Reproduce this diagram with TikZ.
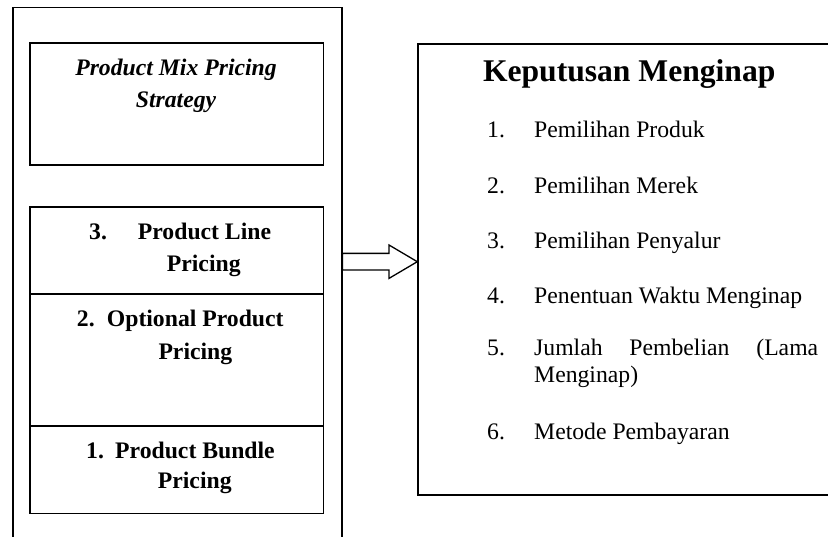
\documentclass[tikz,border=0pt]{standalone}
\usepackage{fontspec}
\setmainfont{Liberation Serif}
\usetikzlibrary{calc}
\tikzset{
  panel/.style={draw, line width=1.5pt, rectangle, inner sep=0pt, anchor=north west},
  cell/.style={draw, line width=1.6pt, rectangle, inner sep=0pt, anchor=north west, minimum width=293.4pt},
  body/.style={inner sep=0pt, anchor=base west, font=\fontsize{23.7}{27.5}\selectfont},
  bodyb/.style={body, font=\fontsize{23.7}{27.5}\selectfont\bfseries},
  title/.style={inner sep=0pt, anchor=base, font=\fontsize{31.6}{36}\selectfont\bfseries},
  hollowarrow/.style={draw, line width=1.3pt, fill=white, line join=miter}
}
\begin{document}
\begin{tikzpicture}[x=1pt,y=-1pt]
\useasboundingbox (0,0) rectangle (828,537);
\clip (0,0) rectangle (828,537);

% left panel (open below the page edge) and the decision box (open to the right)
\node[panel, minimum width=329pt, minimum height=560pt] (outer) at (12,7) {};
\node[panel, minimum width=424pt, minimum height=450.7pt] (dec) at (417.3,43.3) {};

% strategy cells
\node[cell, minimum height=121.7pt] (mix) at (29.3,42.3) {};
\node[cell, minimum height=87.3pt] (line) at (29.3,206) {};
\node[cell, minimum height=131.7pt] (opt) at (29.3,293.3) {};
\node[cell, minimum height=87.7pt] (bundle) at (29.3,425) {};

% texts of the strategy cells
\node[inner sep=0pt, anchor=base, font=\fontsize{23.7}{27.5}\selectfont\bfseries\itshape] (mixa) at (176,76) {Product Mix Pricing};
\node[inner sep=0pt, anchor=base, font=\fontsize{23.7}{27.5}\selectfont\bfseries\itshape] (mixb) at (176,108) {Strategy};

\node[bodyb] (l3n) at (89,239.3) {3.};
\node[bodyb] (l3a) at (137.7,239.3) {Product Line};
\node[bodyb] (l3b) at (166.7,271.7) {Pricing};

\node[bodyb] (l2n) at (76.7,326.7) {2.};
\node[bodyb] (l2a) at (106.7,326.7) {Optional Product};
\node[bodyb] (l2b) at (158.3,360) {Pricing};

\node[bodyb] (l1n) at (86,458.3) {1.};
\node[bodyb] (l1a) at (115,458.3) {Product Bundle};
\node[bodyb] (l1b) at (157.7,488) {Pricing};

% decision box texts
\node[title] (dtitle) at (629.2,82) {Keputusan Menginap};

\node[body] (n1) at (487,138) {1.};
\node[body] (t1) at (534,138) {Pemilihan Produk};
\node[body] (n2) at (487,194) {2.};
\node[body] (t2) at (534,194) {Pemilihan Merek};
\node[body] (n3) at (487,248.3) {3.};
\node[body] (t3) at (534,248.3) {Pemilihan Penyalur};
\node[body] (n4) at (487,303.3) {4.};
\node[body] (t4) at (534,303.3) {Penentuan Waktu Menginap};
\node[body] (n5) at (487,356) {5.};
\node[body, anchor=north west] (t5) at (534,339.1) {\parbox[t]{284pt}{\fontsize{23.7}{27}\selectfont\hbadness=10000 Jumlah Pembelian (Lama Menginap)}};
\node[body] (n6) at (487,439) {6.};
\node[body] (t6) at (534,439) {Metode Pembayaran};

% hollow block arrow from the panel to the decision box
\coordinate (as) at (outer.east |- 0,261.7);
\coordinate (ae) at (dec.west |- 0,261.7);
\draw[hollowarrow]
  ($(as)+(0,-8.3)$) -- ($(ae)+(-28.3,-8.3)$) -- ($(ae)+(-28.3,-16.7)$) -- (ae)
  -- ($(ae)+(-28.3,16.7)$) -- ($(ae)+(-28.3,8.3)$) -- ($(as)+(0,8.3)$) -- cycle;
\end{tikzpicture}
\end{document}
